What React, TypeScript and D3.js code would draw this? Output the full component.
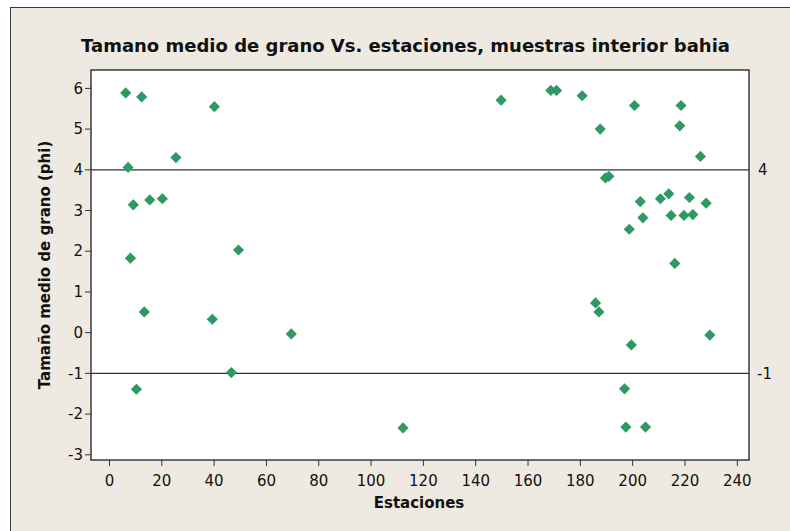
import React from "react";
import * as d3 from "d3";

const estaciones = [
  6.2, 12.3, 40.1, 25.4, 7.1, 9.1, 15.4, 20.2, 8.0, 49.3, 13.3, 39.3, 69.5, 46.6, 10.3, 112.2,
  149.7, 168.7, 170.9, 180.7, 200.7, 218.5, 187.6, 218.0, 225.9, 189.6, 190.9, 202.9, 210.6,
  213.8, 221.7, 228.1, 203.9, 214.7, 219.6, 223.0, 198.7, 216.1, 185.8, 187.1, 229.5, 199.5,
  196.9, 197.4, 204.9,
];
const tamano = [
  5.89, 5.79, 5.55, 4.3, 4.06, 3.14, 3.26, 3.29, 1.83, 2.03, 0.51, 0.33, -0.03, -0.98, -1.39, -2.34,
  5.71, 5.95, 5.95, 5.82, 5.58, 5.58, 5.0, 5.08, 4.33, 3.8, 3.84, 3.22, 3.29,
  3.41, 3.32, 3.18, 2.82, 2.88, 2.88, 2.9, 2.54, 1.7, 0.73, 0.51, -0.06, -0.3,
  -1.38, -2.32, -2.32,
];
const xTicks = [0, 20, 40, 60, 80, 100, 120, 140, 160, 180, 200, 220, 240];
const yTicks = [-3, -2, -1, 0, 1, 2, 3, 4, 5, 6];
const refLines = [4, -1];
const refLabels = ["4", "-1"];

const title = "Tamano medio de grano Vs. estaciones, muestras interior bahia";
const xTitle = "Estaciones";
const yTitle = "Tamaño medio de grano (phi)";

export default function App() {
  const W = 790, H = 531;
  const left = 91, right = 749, top = 70, bottom = 460;
  const x = d3.scaleLinear().domain([0, 240]).range([109.5, 737.3]);
  const y = d3.scaleLinear().domain([-3, 6]).range([454.8, 88.4]);
  const font = "Tahoma, 'DejaVu Sans', sans-serif";
  const green = "#2f9963";
  const diamond = d3.symbol().type(d3.symbolDiamond2).size(80)();
  return (
    <svg width={W} height={H} style={{ position: "absolute", left: 0, top: 0 }} fontFamily={font}>
      <rect x={0} y={0} width={W} height={H} fill="#ffffff" />
      <rect x={10.5} y={7.5} width={W} height={H} fill="#eeeae1" stroke="#3a3a3a" strokeWidth={1} />
      <rect x={left} y={top} width={right - left} height={bottom - top} fill="#ffffff" stroke="#3a3a3a" strokeWidth={1.5} />
      <text x={405.5} y={52} textAnchor="middle" fontWeight="bold" fontSize={18} fill="#111">{title}</text>
      {refLines.map((v, i) => (
        <g key={i}>
          <line x1={left} x2={right} y1={y(v)} y2={y(v)} stroke="#333" strokeWidth={1.2} />
          <text x={i === 0 ? 758 : 757} y={y(v)} dy="0.35em" fontSize={15} fill="#111">{refLabels[i]}</text>
        </g>
      ))}
      {yTicks.map((t) => (
        <g key={t}>
          <line x1={left - 6} x2={left} y1={y(t)} y2={y(t)} stroke="#333" />
          <text x={left - 8} y={y(t)} dy="0.35em" textAnchor="end" fontSize={15} fill="#111">{t}</text>
        </g>
      ))}
      {xTicks.map((t) => (
        <g key={t}>
          <line x1={x(t)} x2={x(t)} y1={bottom} y2={bottom + 6} stroke="#333" />
          <text x={x(t)} y={485.5} textAnchor="middle" fontSize={15} fill="#111">{t}</text>
        </g>
      ))}
      <text x={419} y={508} textAnchor="middle" fontWeight="bold" fontSize={15} fill="#111">{xTitle}</text>
      <text transform={`translate(50,${(top + bottom) / 2}) rotate(-90)`} textAnchor="middle" fontWeight="bold" fontSize={15} fill="#111">{yTitle}</text>
      {estaciones.map((e, i) => (
        <path key={i} d={diamond} transform={`translate(${x(e)},${y(tamano[i])})`} fill={green} />
      ))}
    </svg>
  );
}
